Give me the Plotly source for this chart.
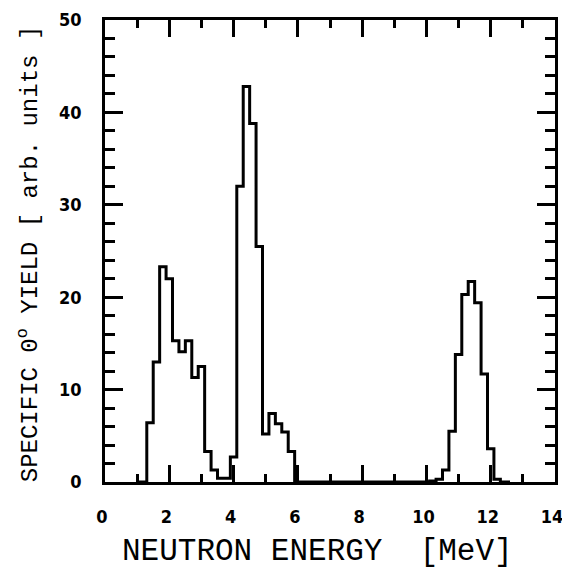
import plotly.graph_objects as go

# bin centres (MeV), 0.2 MeV wide bins
energy = [
    1.0, 1.2, 1.4, 1.6, 1.8, 2.0, 2.2, 2.4, 2.6, 2.8,
    3.0, 3.2, 3.4, 3.6, 3.8, 4.0, 4.2, 4.4, 4.6, 4.8,
    5.0, 5.2, 5.4, 5.6, 5.8, 6.0, 6.2, 6.4, 6.6, 6.8,
    7.0, 7.2, 7.4, 7.6, 7.8, 8.0, 8.2, 8.4, 8.6, 8.8,
    9.0, 9.2, 9.4, 9.6, 9.8, 10.0, 10.2, 10.4, 10.6, 10.8,
    11.0, 11.2, 11.4, 11.6, 11.8, 12.0, 12.2, 12.4, 12.6,
]
yield_ = [
    0, 0, 6.4, 13.0, 23.3, 22.0, 15.3, 14.1, 15.3, 11.3,
    12.5, 3.3, 1.3, 0.4, 0.4, 2.7, 32.0, 42.8, 38.8, 25.5,
    5.2, 7.4, 6.3, 5.4, 3.3, 0, 0, 0, 0, 0,
    0, 0, 0, 0, 0, 0, 0, 0, 0, 0,
    0, 0, 0, 0, 0, 0, 0.1, 0.3, 1.3, 5.5,
    13.8, 20.3, 21.7, 19.4, 11.7, 3.6, 0.3, 0, 0,
]

# small ticks every 1 MeV / 2 units, numbered ones every 2 MeV / 10 units
x_minor = [0, 1, 2, 3, 4, 5, 6, 7, 8, 9, 10, 11, 12, 13, 14]
x_labels = ["0", "", "2", "", "4", "", "6", "", "8", "", "10", "", "12", "", "14"]
x_major = [0, 2, 4, 6, 8, 10, 12, 14]
y_minor = [0, 2, 4, 6, 8, 10, 12, 14, 16, 18, 20, 22, 24, 26, 28,
           30, 32, 34, 36, 38, 40, 42, 44, 46, 48, 50]
y_labels = ["0   ", "", "", "", "", "10   ", "", "", "", "", "20   ", "", "", "", "",
            "30   ", "", "", "", "", "40   ", "", "", "", "", "50   "]
y_major = [0, 10, 20, 30, 40, 50]

tick_font = dict(family="Liberation Sans Narrow, DejaVu Sans Condensed, Arial", size=18,
                 color="black", weight="bold")
title_font = "Liberation Mono, DejaVu Sans Mono, monospace"

fig = go.Figure()
fig.add_trace(go.Scatter(
    x=energy, y=yield_, mode="lines", line_shape="hvh",
    line=dict(color="black", width=3), showlegend=False, hoverinfo="skip",
))
# invisible copy on the overlay axes that carry the long ticks
fig.add_trace(go.Scatter(
    x=energy, y=yield_, mode="lines", xaxis="x2", yaxis="y2", opacity=0,
    showlegend=False, hoverinfo="skip",
))

axis_common = dict(showgrid=False, zeroline=False, automargin=False,
                   tickcolor="black", tickwidth=3, ticks="inside")

fig.update_layout(
    width=562, height=572,
    paper_bgcolor="white", plot_bgcolor="white",
    margin=dict(l=105, r=7, t=20, b=90),
    xaxis=dict(
        range=[0, 14], tickmode="array", tickvals=x_minor, ticktext=x_labels,
        ticklen=8, showline=True, linewidth=3, linecolor="black", mirror="ticks",
        tickfont=tick_font, ticklabelstandoff=16, ticklabelshift=-3,
        ticklabeloverflow="allow", **axis_common,
    ),
    xaxis2=dict(
        range=[0, 14], overlaying="x", side="bottom", tickmode="array",
        tickvals=x_major, ticklen=17, showticklabels=False, showline=False,
        mirror="ticks", **axis_common,
    ),
    yaxis=dict(
        range=[0, 50], tickmode="array", tickvals=y_minor, ticktext=y_labels,
        ticklen=10, showline=True, linewidth=3, linecolor="black", mirror="ticks",
        tickfont=tick_font, **axis_common,
    ),
    yaxis2=dict(
        range=[0, 50], overlaying="y", side="left", tickmode="array",
        tickvals=y_major, ticklen=18, showticklabels=False, showline=False,
        mirror="ticks", **axis_common,
    ),
    annotations=[
        dict(text="NEUTRON ENERGY  [MeV]", xref="paper", yref="paper",
             x=0.473, y=-0.15, xanchor="center", yanchor="middle", showarrow=False,
             font=dict(family=title_font, size=31, color="black")),
        dict(text="SPECIFIC 0<sup>o</sup> YIELD [ arb. units ]", xref="paper", yref="paper",
             x=-0.17, y=0.494, xanchor="center", yanchor="middle", textangle=-90,
             showarrow=False, font=dict(family=title_font, size=24, color="black")),
    ],
)

# drop the browser's default page margin so the figure sits at the window corner
fig.write_html("out.html", config={"displayModeBar": False},
               post_script="document.body.style.margin='0';")
